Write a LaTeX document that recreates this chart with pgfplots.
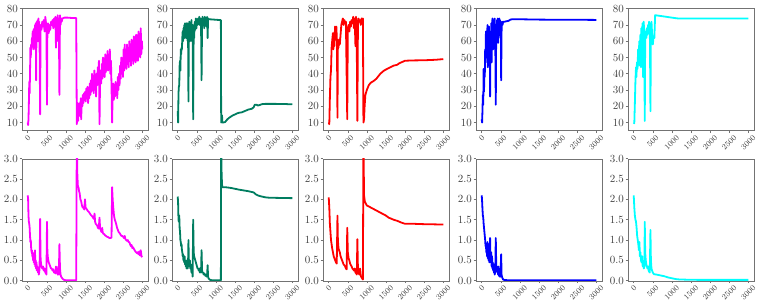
\documentclass[border=0pt]{standalone}
\usepackage{graphicx}
\usepackage{pgfplots}
\pgfplotsset{compat=1.18}
\definecolor{cM}{RGB}{255,0,255}
\definecolor{cG}{RGB}{0,125,96}
\definecolor{cR}{RGB}{255,0,0}
\definecolor{cB}{RGB}{0,0,255}
\definecolor{cC}{RGB}{0,255,255}
\pgfplotsset{
  base/.style={width=126pt,height=122pt,scale only axis,
    xmin=-150,xmax=3150,xtick={0,500,1000,1500,2000,2500,3000},
    /pgf/number format/1000 sep={},
    axis line style={black!55},tick style={black!55,line width=0.6pt},
    tick align=outside,major tick length=2.5pt,
    xtick pos=bottom,ytick pos=left,
    xticklabel={\rotatebox{45}{$\pgfmathprintnumber{\tick}$}},
    xticklabel style={font=\fontsize{8}{9}\selectfont,inner sep=1pt,text=black!75},
    yticklabel style={font=\fontsize{10.5}{12}\selectfont,inner sep=1.5pt,text=black!75},
    every axis plot/.append style={line width=1.8pt,line join=round,mark=none},
    anchor=north west},
  toprow/.style={base,ymin=5,ymax=80,ytick={10,20,...,80}},
  botrow/.style={base,ymin=0,ymax=3,ytick={0,0.5,1,1.5,2,2.5,3},
    yticklabel style={/pgf/number format/.cd,fixed,fixed zerofill,precision=1}},
}
\begin{document}
\begin{tikzpicture}
\useasboundingbox (0,0) rectangle (761pt,-305pt);
% ---------- column 1 ----------
\begin{axis}[toprow,at={(22pt,-8.7pt)}]
\addplot[cM] coordinates {(0,10)(10,8.5)(20,12)(30,22)(40,35)(50,28)(60,40)(70,56)(80,50)(90,58)(100,55)(110,62)(120,58)(130,66)(140,60)(150,67)(160,55)(170,68)(180,62)(190,70)(200,58)(210,71)(220,36)(230,70)(240,72)(250,63)(260,73)(270,60)(280,74)(290,67)(300,72)(310,60)(325,15)(335,66)(345,70)(360,67)(380,72)(400,69)(420,73)(440,66)(460,75)(480,71)(490,65)(505,21)(515,67)(530,71)(550,65)(570,70)(590,67)(610,72)(630,70)(650,73)(670,68)(690,74)(710,71)(725,75)(740,56)(755,73)(770,68)(785,76)(800,60)(815,74)(830,27)(845,76)(860,70)(875,74)(890,72)(910,74)(960,74.5)(1050,74.5)(1150,74.3)(1270,74.2)(1285,9)(1295,12)(1310,22)(1320,11)(1335,20)(1345,14)(1360,22)(1375,18)(1390,25)(1400,12)(1415,24)(1430,20)(1445,27)(1460,22)(1475,28)(1490,24)(1505,29)(1520,23)(1535,31)(1550,26)(1565,32)(1580,22)(1595,30)(1610,25)(1625,34)(1640,27)(1655,36)(1670,29)(1685,40)(1700,30)(1715,37)(1730,28)(1745,42)(1760,32)(1775,38)(1790,26)(1805,40)(1820,33)(1835,44)(1850,35)(1865,48)(1880,9)(1895,36)(1910,42)(1925,34)(1940,46)(1955,37)(1970,50)(1985,40)(2000,46)(2015,38)(2030,52)(2045,41)(2060,48)(2075,43)(2090,54)(2105,42)(2120,50)(2135,44)(2150,55)(2165,40)(2180,48)(2195,32)(2210,10)(2225,28)(2240,34)(2255,24)(2270,33)(2285,26)(2300,35)(2315,27)(2330,34)(2345,25)(2360,38)(2375,30)(2390,40)(2405,33)(2420,45)(2435,37)(2450,50)(2465,40)(2480,48)(2495,38)(2510,55)(2525,42)(2540,58)(2555,45)(2570,52)(2585,43)(2600,58)(2615,46)(2630,56)(2645,44)(2660,60)(2675,48)(2690,57)(2705,45)(2720,61)(2735,50)(2750,58)(2765,46)(2780,63)(2795,50)(2810,60)(2825,47)(2840,64)(2855,52)(2870,62)(2885,48)(2900,66)(2915,54)(2930,63)(2945,50)(2960,68)(2975,52)(2990,60)(3000,55)};
\end{axis}
\begin{axis}[botrow,at={(22pt,-158.7pt)}]
\addplot[cM] coordinates {(0,2.1)(10,2.0)(20,1.6)(30,1.45)(40,1.4)(50,1.3)(60,1.1)(70,0.95)(80,1.0)(90,0.8)(100,0.7)(110,0.75)(120,0.6)(130,0.65)(140,0.5)(150,0.55)(160,0.45)(170,0.7)(180,0.4)(190,0.75)(200,0.35)(210,0.5)(220,0.3)(230,0.45)(240,0.25)(250,0.35)(260,0.3)(270,0.2)(280,0.25)(290,0.15)(300,0.2)(310,0.3)(325,1.52)(335,0.6)(345,0.45)(360,0.35)(380,0.3)(400,0.35)(420,0.25)(440,0.3)(460,0.2)(480,0.18)(490,0.15)(505,1.45)(515,0.7)(530,0.55)(550,0.45)(570,0.4)(590,0.35)(610,0.3)(630,0.3)(650,0.25)(670,0.28)(690,0.2)(710,0.22)(725,0.18)(740,0.35)(755,0.2)(770,0.25)(785,0.15)(800,0.35)(815,0.15)(830,0.9)(845,0.3)(860,0.15)(875,0.1)(890,0.08)(910,0.05)(950,0.02)(1000,0.01)(1100,0.01)(1270,0.01)(1285,3.6)(1300,2.6)(1315,2.3)(1330,2.3)(1345,2.2)(1360,2.15)(1380,2.0)(1400,1.95)(1420,1.85)(1440,1.8)(1460,1.8)(1480,1.75)(1500,2.0)(1515,1.8)(1530,1.78)(1550,1.75)(1570,1.72)(1590,1.7)(1610,1.68)(1630,1.65)(1650,1.62)(1670,1.6)(1690,1.58)(1710,1.55)(1730,1.52)(1750,1.65)(1765,1.45)(1780,1.4)(1800,1.38)(1820,1.35)(1840,1.3)(1860,1.28)(1880,1.55)(1895,1.3)(1910,1.25)(1930,1.2)(1950,1.3)(1965,1.18)(1985,1.15)(2000,1.15)(2020,1.12)(2050,1.1)(2080,1.08)(2110,1.07)(2140,1.05)(2170,1.05)(2195,1.06)(2210,2.3)(2225,2.0)(2240,1.8)(2260,1.6)(2280,1.5)(2300,1.45)(2320,1.38)(2340,1.3)(2360,1.25)(2380,1.2)(2400,1.18)(2420,1.15)(2440,1.12)(2460,1.1)(2480,1.1)(2500,1.08)(2520,1.05)(2540,1.1)(2560,1.02)(2580,1.0)(2600,0.98)(2620,1.0)(2640,0.95)(2660,0.95)(2680,0.9)(2700,0.85)(2720,0.88)(2740,0.8)(2760,0.82)(2780,0.78)(2800,0.75)(2820,0.72)(2840,0.7)(2860,0.68)(2880,0.7)(2900,0.65)(2920,0.72)(2940,0.62)(2960,0.75)(2980,0.6)(3000,0.58)};
\end{axis}
% ---------- column 2 ----------
\begin{axis}[toprow,at={(172pt,-8.7pt)}]
\addplot[cG] coordinates {(0,17)(10,10)(20,28)(30,32)(40,33)(50,45)(60,48)(70,42)(80,55)(90,52)(100,56)(110,55)(120,62)(130,66)(140,60)(150,68)(160,63)(170,70)(180,62)(190,71)(200,64)(210,70)(220,62)(230,71)(240,66)(250,71)(260,60)(270,68)(281,23)(292,68)(305,72)(318,60)(330,70)(345,62)(360,73)(375,60)(390,70)(405,12)(418,68)(430,62)(445,72)(460,67)(475,74)(490,68)(505,73)(520,70)(535,74)(550,72)(565,75)(580,70)(595,74)(610,72)(624,36)(638,73)(650,75)(665,70)(680,74)(695,68)(710,75)(725,72)(740,74)(755,69)(770,75)(783,62)(795,74)(810,73.5)(900,73.4)(1000,73.2)(1130,73)(1138,10)(1150,12)(1160,14.5)(1170,10)(1185,10)(1240,10.3)(1300,12)(1350,13)(1400,13.8)(1450,14.5)(1500,15)(1550,15.6)(1600,16)(1680,16.3)(1750,17)(1800,17.5)(1850,18)(1944,18.5)(1990,19.5)(2020,21)(2060,21)(2100,20.5)(2150,20.8)(2200,21.3)(2296,21.5)(2500,21.5)(2800,21.4)(3000,21.2)};
\end{axis}
\begin{axis}[botrow,at={(172pt,-158.7pt)}]
\addplot[cG] coordinates {(0,2.07)(10,1.9)(20,1.5)(30,1.45)(40,1.6)(50,1.3)(60,1.2)(70,1.0)(80,0.95)(90,0.85)(100,0.9)(110,0.75)(120,0.7)(130,0.6)(140,0.65)(150,0.5)(160,0.55)(170,0.45)(180,0.6)(190,0.4)(200,0.5)(210,0.35)(220,0.45)(230,0.3)(240,0.5)(250,0.35)(260,0.3)(270,0.4)(281,1.0)(292,0.45)(305,0.35)(318,0.5)(330,0.3)(345,0.4)(360,0.2)(375,0.3)(390,0.1)(405,1.5)(418,0.7)(430,0.6)(445,0.55)(460,0.5)(475,0.45)(490,0.4)(505,0.35)(520,0.3)(535,0.3)(550,0.25)(565,0.3)(580,0.2)(595,0.25)(610,0.2)(624,0.75)(638,0.25)(650,0.2)(665,0.2)(680,0.15)(695,0.18)(710,0.15)(725,0.12)(740,0.15)(755,0.1)(770,0.15)(783,0.38)(795,0.1)(810,0.05)(850,0.02)(900,0.01)(1000,0.01)(1130,0.01)(1138,3.5)(1150,2.6)(1165,2.3)(1240,2.3)(1400,2.28)(1600,2.24)(1855,2.2)(1990,2.17)(2050,2.12)(2120,2.09)(2200,2.07)(2296,2.05)(2400,2.04)(3000,2.03)};
\end{axis}
% ---------- column 3 ----------
\begin{axis}[toprow,at={(323pt,-8.7pt)}]
\addplot[cR] coordinates {(0,10)(15,9)(30,25)(45,38)(60,42)(75,56)(90,60)(110,65)(120,55)(135,63)(150,57)(165,69)(180,62)(200,69)(215,60)(229,13)(240,60)(255,56)(270,61)(290,58)(310,64)(330,70)(350,72)(370,74)(390,70)(410,73)(430,71)(450,72)(485,12)(500,68)(520,70)(540,66)(560,72)(580,69)(600,73)(620,71)(640,75)(660,68)(680,74)(700,57)(715,75)(730,70)(750,11)(765,70)(780,74)(800,72)(820,73)(840,70)(860,74)(880,73)(895,74)(909,10)(925,12)(940,20)(960,27)(997,30)(1050,33)(1100,34.5)(1173,35.5)(1250,37)(1350,40)(1450,42)(1571,43.5)(1700,45)(1792,45.5)(1850,46.5)(1950,47.5)(1995,48)(2200,48.2)(2500,48.3)(2800,48.6)(3000,49)};
\end{axis}
\begin{axis}[botrow,at={(323pt,-158.7pt)}]
\addplot[cR] coordinates {(0,2.05)(15,1.8)(30,1.4)(45,1.2)(60,1.0)(75,0.9)(90,0.8)(110,0.7)(130,0.6)(150,0.55)(170,0.5)(190,0.45)(210,0.42)(229,1.6)(240,1.0)(255,0.8)(270,0.75)(290,0.7)(310,0.6)(330,0.55)(350,0.5)(370,0.45)(390,0.4)(410,0.38)(430,0.35)(450,0.3)(470,0.28)(485,1.3)(500,0.7)(520,0.55)(540,0.5)(560,0.42)(580,0.38)(600,0.35)(620,0.3)(640,0.28)(660,0.25)(680,0.3)(700,0.2)(720,0.18)(735,0.15)(750,1.02)(765,0.3)(780,0.2)(800,0.15)(820,0.3)(840,0.12)(860,0.08)(880,0.05)(895,0.03)(909,3.5)(925,2.1)(945,1.95)(997,1.85)(1100,1.8)(1200,1.75)(1300,1.7)(1400,1.65)(1500,1.6)(1571,1.55)(1700,1.5)(1800,1.47)(1900,1.43)(1995,1.4)(2200,1.4)(2500,1.39)(2800,1.385)(3000,1.38)};
\end{axis}
% ---------- column 4 ----------
\begin{axis}[toprow,at={(476pt,-8.7pt)}]
\addplot[cB] coordinates {(0,12)(10,10)(20,18)(30,27)(40,21)(50,43)(60,29)(70,42)(80,38)(90,55)(100,47)(110,66)(120,50)(130,64)(140,58)(150,70)(160,44)(170,68)(180,55)(190,69)(200,47)(210,60)(219,26)(230,65)(240,57)(250,71)(260,47)(270,62)(280,74)(290,65)(300,55)(310,72)(320,67)(340,74)(355,60)(368,21)(380,70)(390,63)(400,73)(410,66)(420,74)(430,59)(440,72)(450,66)(460,74)(470,68)(480,73)(490,62)(500,70)(509,36)(520,66)(530,72)(545,70)(560,72)(600,72)(650,72.3)(700,72.5)(750,73.3)(800,73.5)(1000,73.5)(1500,73.3)(2000,73.2)(2500,73.2)(3000,73.1)};
\end{axis}
\begin{axis}[botrow,at={(476pt,-158.7pt)}]
\addplot[cB] coordinates {(0,2.1)(10,1.95)(20,1.75)(30,1.6)(40,1.55)(50,1.4)(60,1.3)(70,1.2)(80,1.1)(90,1.0)(100,0.85)(110,0.9)(120,0.7)(130,0.75)(140,0.6)(150,0.95)(160,0.55)(170,0.7)(180,0.5)(190,0.9)(200,0.45)(210,0.6)(219,1.05)(230,0.5)(240,0.45)(250,0.7)(260,0.35)(270,0.6)(280,0.3)(290,0.45)(300,0.25)(310,0.4)(320,0.2)(330,0.3)(340,0.15)(355,0.25)(368,1.05)(380,0.4)(390,0.3)(400,0.35)(410,0.2)(420,0.3)(430,0.15)(440,0.35)(450,0.12)(460,0.2)(470,0.1)(480,0.15)(490,0.1)(509,0.65)(520,0.15)(530,0.1)(545,0.06)(560,0.03)(600,0.015)(800,0.01)(3000,0.01)};
\end{axis}
% ---------- column 5 ----------
\begin{axis}[toprow,at={(628pt,-8.7pt)}]
\addplot[cC] coordinates {(0,10)(15,9.5)(30,22)(45,36)(60,44)(70,38)(85,47)(100,43)(115,55)(130,48)(145,60)(160,45)(175,64)(190,44)(200,68)(215,62)(230,71)(245,38)(260,72)(275,66)(289,11)(300,60)(315,66)(330,62)(345,68)(360,64)(375,70)(390,65)(400,72)(412,71)(425,60)(438,17)(450,66)(465,72)(480,65)(500,58)(520,63)(540,62)(561,76)(650,75.7)(800,75.2)(1000,74.5)(1158,74)(1500,74)(2000,74)(2500,74)(3000,74)};
\end{axis}
\begin{axis}[botrow,at={(628pt,-158.7pt)}]
\addplot[cC] coordinates {(0,2.1)(15,1.8)(30,1.6)(45,1.5)(60,1.45)(75,1.3)(90,1.1)(105,1.0)(120,0.9)(135,0.75)(150,0.95)(160,0.6)(175,0.7)(190,0.5)(205,0.45)(220,0.6)(235,0.35)(250,0.4)(265,0.3)(280,0.35)(289,1.45)(300,0.7)(315,0.5)(330,0.4)(345,0.35)(360,0.3)(375,0.35)(390,0.25)(405,0.22)(420,0.2)(438,1.25)(450,0.5)(465,0.3)(480,0.25)(500,0.2)(530,0.16)(600,0.15)(700,0.13)(800,0.11)(900,0.08)(1000,0.06)(1100,0.04)(1200,0.03)(1400,0.025)(1700,0.02)(2000,0.02)(3000,0.02)};
\end{axis}
\end{tikzpicture}
\end{document}
